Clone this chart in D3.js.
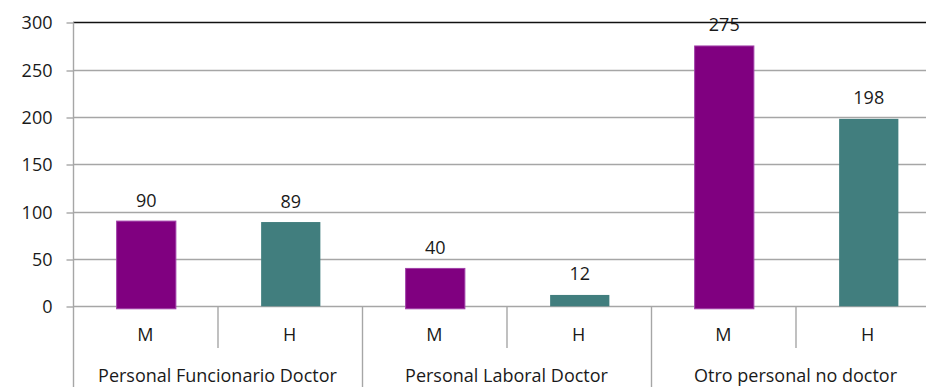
<!DOCTYPE html>
<html>
<head>
<meta charset="utf-8">
<script src="https://cdn.jsdelivr.net/npm/d3@7/dist/d3.min.js"></script>
<style>
  html, body { margin: 0; padding: 0; background: #fff; overflow: hidden; }
  svg { display: block; }
  text { font-family: "Open Sans", "Noto Sans", sans-serif; fill: #1a1a1a; }
</style>
</head>
<body>
<svg id="chart" width="926" height="387"></svg>
<script>
// Personnel counts by category and sex (M = mujeres, H = hombres)
const categories = ["Personal Funcionario Doctor", "Personal Laboral Doctor", "Otro personal no doctor"];
const sexes = ["M", "H"];
const valuesM = [90, 40, 275];
const valuesH = [89, 12, 198];
const yTicks = [0, 50, 100, 150, 200, 250, 300];

const colors = { M: "#800080", H: "#417e7e" };
const strokeM = "#a040a8";
const fontSize = "18px";

const svg = d3.select("#chart");
const plotLeft = 73, plotRight = 940, plotTop = 22.3, zeroY = 306.3;

const x0 = d3.scaleBand().domain(categories).range([plotLeft, plotRight]).padding(0);
const x1 = d3.scaleBand().domain(sexes).range([0, x0.bandwidth()])
  .paddingInner(0.59).paddingOuter(0.295);
const slot = d3.scaleBand().domain(sexes).range([0, x0.bandwidth()]).padding(0);
const y = d3.scaleLinear().domain([0, 300]).range([zeroY, plotTop]);

const grid = "#a6a6a6";

// horizontal gridlines
svg.append("g").selectAll("line").data(yTicks.filter(t => t > 0 && t < 300)).join("line")
  .attr("x1", plotLeft).attr("x2", plotRight)
  .attr("y1", d => Math.round(y(d)) + 0.5).attr("y2", d => Math.round(y(d)) + 0.5)
  .attr("stroke", grid).attr("stroke-width", 1.4);

// top border of plot area
svg.append("line").attr("x1", plotLeft).attr("x2", plotRight)
  .attr("y1", Math.round(y(300)) + 0.5).attr("y2", Math.round(y(300)) + 0.5)
  .attr("stroke", "#111").attr("stroke-width", 1.6);

// y axis
const yAxis = d3.axisLeft(y).tickValues(yTicks).tickSize(7).tickPadding(14);
const gy = svg.append("g").attr("transform", `translate(${plotLeft + 0.5},0)`).call(yAxis);
gy.select(".domain").attr("stroke", grid).attr("stroke-width", 1.4)
  .attr("d", `M0,${plotTop}V387`);
gy.selectAll(".tick line").attr("stroke", grid).attr("stroke-width", 1.4)
  .attr("transform", d => `translate(0,${Math.round(y(d)) + 0.5 - y(d)})`);
gy.selectAll(".tick text").style("font-family", "'Open Sans', sans-serif")
  .style("font-size", fontSize).attr("fill", "#1a1a1a").attr("dy", "0.36em");

// bottom axis line at zero
svg.append("line").attr("x1", plotLeft).attr("x2", plotRight)
  .attr("y1", Math.round(zeroY) + 0.5).attr("y2", Math.round(zeroY) + 0.5)
  .attr("stroke", grid).attr("stroke-width", 1.4);

// category groups with separators
const groups = svg.append("g").selectAll("g").data(categories).join("g")
  .attr("transform", d => `translate(${x0(d)},0)`);

groups.filter((d, i) => i > 0).append("line")
  .attr("x1", 0.5).attr("x2", 0.5).attr("y1", zeroY).attr("y2", 387)
  .attr("stroke", grid).attr("stroke-width", 1.4);
groups.append("line")
  .attr("x1", slot("H") + 0.5).attr("x2", slot("H") + 0.5).attr("y1", zeroY).attr("y2", 348)
  .attr("stroke", grid).attr("stroke-width", 1.4);

// bars, value labels and sex labels
groups.each(function(d, i) {
  const g = d3.select(this);
  sexes.forEach(s => {
    const v = s === "M" ? valuesM[i] : valuesH[i];
    const bx = x1(s) + 1;
    const bw = x1.bandwidth();
    const yTop = y(v);
    const yBot = s === "M" ? zeroY + 2.5 : zeroY;
    g.append("rect")
      .attr("x", bx).attr("y", yTop).attr("width", bw).attr("height", yBot - yTop)
      .attr("fill", colors[s])
      .attr("stroke", s === "M" ? strokeM : "none").attr("stroke-width", 1);
    g.append("text")
      .attr("x", bx + bw / 2).attr("y", yTop - 14.5)
      .attr("text-anchor", "middle").style("font-size", fontSize)
      .text(v);
    g.append("text")
      .attr("x", slot(s) + slot.bandwidth() / 2).attr("y", 341)
      .attr("text-anchor", "middle").style("font-size", fontSize)
      .text(s);
  });
  g.append("text")
    .attr("x", x0.bandwidth() / 2).attr("y", 382)
    .attr("text-anchor", "middle").style("font-size", fontSize)
    .text(d);
});
</script>
</body>
</html>
